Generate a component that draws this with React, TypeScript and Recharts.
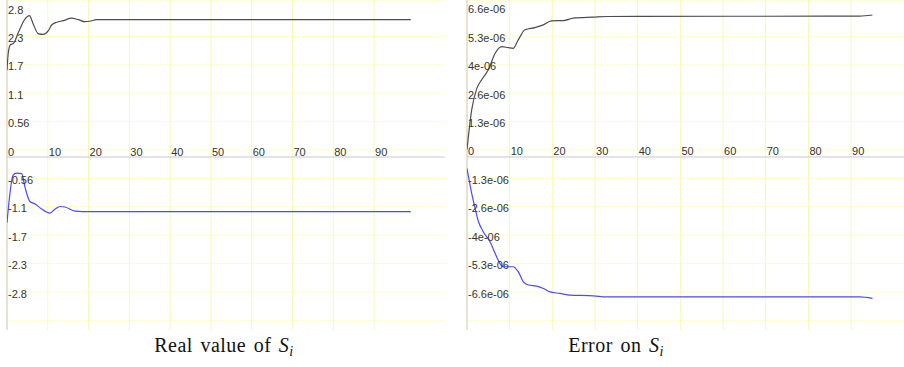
import React from "react";
import { LineChart, Line, XAxis, YAxis, CartesianGrid, ReferenceLine, ReferenceDot } from "recharts";

// real value of S_i : upper (real part) and lower (imaginary part) curves
const realUpperX = [0, 0.3, 0.8, 1.6, 2.8, 4.4, 5.5, 6.4, 7.7, 8.9, 10.1, 11, 12.2, 13.8, 15.8, 17.5, 19.1, 20.3, 22, 30, 99];
const realUpperY = [1.72, 2.05, 2.22, 2.25, 2.47, 2.73, 2.8, 2.64, 2.44, 2.43, 2.5, 2.62, 2.67, 2.7, 2.75, 2.72, 2.68, 2.69, 2.72, 2.72, 2.72];
const realLowerX = [0, 1.5, 2.3, 3.6, 4.4, 5.6, 6.9, 8.5, 10.5, 11.8, 13, 14.2, 16.7, 20.3, 99];
const realLowerY = [-1.3, -0.36, -0.32, -0.33, -0.59, -0.88, -0.93, -1.03, -1.11, -1.03, -0.98, -0.99, -1.07, -1.08, -1.08];

// error on S_i
const errUpperX = [0, 1.1, 2.3, 3.4, 5, 6.6, 8.1, 9.7, 10.8, 12, 13.6, 15.9, 17.9, 19.8, 22.6, 24.9, 29.6, 32.8, 92, 95];
const errUpperY = [0.35e-6, 2.19e-6, 3.19e-6, 3.58e-6, 4.05e-6, 4.82e-6, 5.13e-6, 5.08e-6, 5.05e-6, 5.44e-6, 5.91e-6, 6.01e-6, 6.14e-6, 6.33e-6, 6.34e-6, 6.45e-6, 6.5e-6, 6.53e-6, 6.55e-6, 6.6e-6];
const errLowerX = [0, 1.1, 1.9, 2.7, 3.8, 5.4, 6.6, 7.7, 8.5, 10.8, 12, 13.2, 14.4, 16.3, 17.9, 19.4, 21.8, 24.1, 29.6, 32.7, 92, 95];
const errLowerY = [-0.53e-6, -1.69e-6, -2.39e-6, -3.01e-6, -3.47e-6, -3.94e-6, -4.48e-6, -4.94e-6, -5.1e-6, -5.1e-6, -5.33e-6, -5.8e-6, -5.95e-6, -6.0e-6, -6.11e-6, -6.27e-6, -6.34e-6, -6.42e-6, -6.45e-6, -6.5e-6, -6.5e-6, -6.57e-6];

const xTicks = [0, 10, 20, 30, 40, 50, 60, 70, 80, 90];
const xGrid = [10, 20, 30, 40, 50, 60, 70, 80, 90];

const realTicks = [-2.8125, -2.25, -1.6875, -1.125, -0.5625, 0.5625, 1.125, 1.6875, 2.25, 2.8125];
const realTickLabels = ["-2.8", "-2.3", "-1.7", "-1.1", "-0.56", "0.56", "1.1", "1.7", "2.3", "2.8"];
const errTicks = [-6.6e-6, -5.28e-6, -3.96e-6, -2.64e-6, -1.32e-6, 1.32e-6, 2.64e-6, 3.96e-6, 5.28e-6, 6.6e-6];
const errTickLabels = ["-6.6e-06", "-5.3e-06", "-4e-06", "-2.6e-06", "-1.3e-06", "1.3e-06", "2.6e-06", "4e-06", "5.3e-06", "6.6e-06"];

const toPoints = (xs: number[], ys: number[]) => xs.map((x, i) => ({ x, y: ys[i] }));

// minor horizontal grid: quarter of the tick step
const minorGrid = (step: number) => {
  const out: number[] = [];
  for (let k = -24; k <= 22; k++) out.push((k * step) / 4);
  return out;
};

const FONT = "'Liberation Sans', Arial, sans-serif";

// tick text sits just above its grid line, left-aligned on the tick position
function TickLabel(props: any) {
  const { viewBox, text } = props;
  const cx = viewBox.x + viewBox.width / 2;
  const cy = viewBox.y + viewBox.height / 2;
  return (
    <text x={cx + 1} y={cy - 1.5} fontSize={11} fontFamily={FONT} fill="#333" textAnchor="start">
      {text}
    </text>
  );
}

interface PanelProps {
  left: number;
  width: number;
  xMax: number;
  yDomain: [number, number];
  ticks: number[];
  labels: string[];
  step: number;
  upper: { x: number; y: number }[];
  lower: { x: number; y: number }[];
}

function Panel({ left, width, xMax, yDomain, ticks, labels, step, upper, lower }: PanelProps) {
  return (
    <div style={{ position: "absolute", left, top: 0 }}>
      <LineChart width={width} height={330} margin={{ top: 0, right: 0, bottom: 0, left: 7 }}>
        <CartesianGrid vertical={false} horizontalValues={minorGrid(step)} stroke="#ffffc8" />
        <CartesianGrid horizontal={false} verticalValues={xGrid} stroke="#f8f8b8" />
        <XAxis type="number" dataKey="x" domain={[0, xMax]} hide allowDataOverflow />
        <YAxis type="number" domain={yDomain} hide allowDataOverflow />
        <ReferenceLine x={0} stroke="#cdc9a2" />
        <ReferenceLine y={0} stroke="#c8c8c8" />
        {xTicks.map((t) => (
          <ReferenceDot key={"x" + t} x={t} y={0} r={0.5} fill="none" stroke="none" label={<TickLabel text={String(t)} />} />
        ))}
        {ticks.map((t, i) => (
          <ReferenceDot key={"y" + i} x={0} y={t} r={0.5} fill="none" stroke="none" label={<TickLabel text={labels[i]} />} />
        ))}
        <Line data={upper} dataKey="y" type="monotone" stroke="#4d4d4d" strokeWidth={1.2} dot={false} isAnimationActive={false} />
        <Line data={lower} dataKey="y" type="monotone" stroke="#4a4aff" strokeWidth={1.2} dot={false} isAnimationActive={false} />
      </LineChart>
    </div>
  );
}

const captionStyle: React.CSSProperties = {
  position: "absolute",
  top: 334,
  width: 300,
  textAlign: "center",
  fontFamily: "'Liberation Serif', 'Times New Roman', serif",
  fontSize: 20,
  letterSpacing: 0.5,
  wordSpacing: 2,
  color: "#111",
};

const subStyle: React.CSSProperties = { fontSize: 14, fontStyle: "italic", verticalAlign: -4, lineHeight: 0 };

export default function App() {
  return (
    <div style={{ position: "absolute", left: 0, top: 0, width: 904, height: 367, background: "#fff", overflow: "hidden" }}>
      <Panel
        left={0}
        width={445}
        xMax={107.4}
        yDomain={[-3.426, 3.11]}
        ticks={realTicks}
        labels={realTickLabels}
        step={0.5625}
        upper={toPoints(realUpperX, realUpperY)}
        lower={toPoints(realLowerX, realLowerY)}
      />
      <Panel
        left={460}
        width={444}
        xMax={102.4}
        yDomain={[-8.04e-6, 7.296e-6]}
        ticks={errTicks}
        labels={errTickLabels}
        step={1.32e-6}
        upper={toPoints(errUpperX, errUpperY)}
        lower={toPoints(errLowerX, errLowerY)}
      />
      <div style={{ ...captionStyle, left: 224 - 150 }}>
        Real value of <i>S</i><span style={subStyle}>i</span>
      </div>
      <div style={{ ...captionStyle, left: 616 - 150 }}>
        Error on <i>S</i><span style={subStyle}>i</span>
      </div>
    </div>
  );
}
